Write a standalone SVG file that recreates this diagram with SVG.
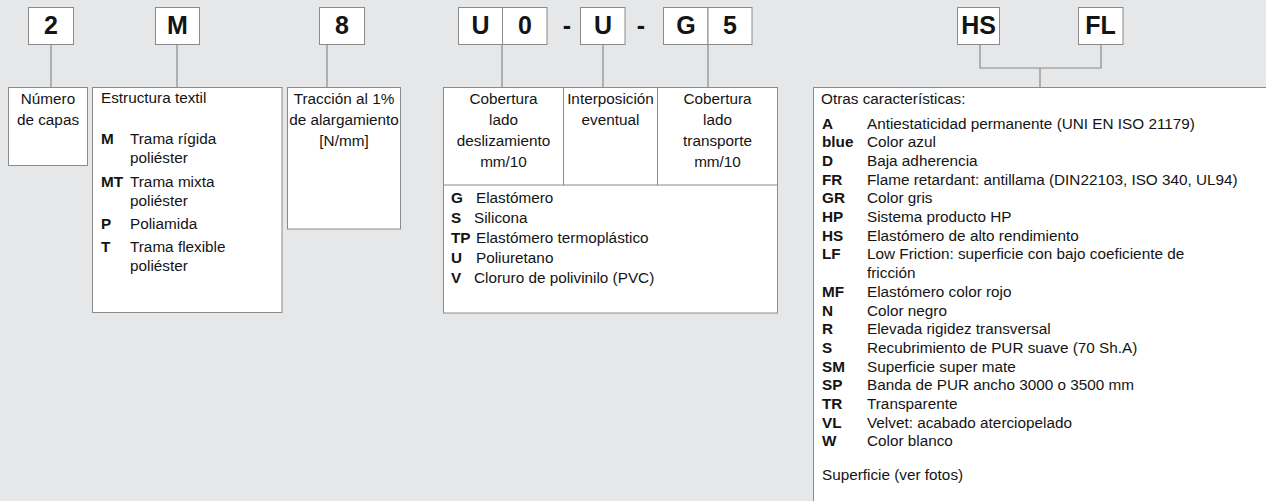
<svg xmlns="http://www.w3.org/2000/svg" width="1266" height="501" viewBox="0 0 1266 501">
<style>
.bg{fill:#e6e7e9}
.box{fill:#ffffff;stroke:#8a8a8a;stroke-width:1}
.ln{fill:none;stroke:#8a8a8a;stroke-width:1.2}
text{font-family:"Liberation Sans",Arial,sans-serif;fill:#141414}
.code{font-size:25px;font-weight:bold;text-anchor:middle}
.t{font-size:15.3px}
.c{text-anchor:middle}
.b{font-weight:bold}
</style>
<rect class="bg" x="0" y="0" width="1266" height="501"/>
<g id="connectors">
<path class="ln" d="M51 44V87"/>
<path class="ln" d="M177 44V87"/>
<path class="ln" d="M327 44V87"/>
<path class="ln" d="M502 44V87"/>
<path class="ln" d="M603 44V87"/>
<path class="ln" d="M708 44V87"/>
<path class="ln" d="M980 44V68H1101V44M1040 68V87"/>
</g>
<g id="code-2"><rect class="box" x="28.5" y="7.5" width="45" height="37"/><text class="code" x="51" y="34">2</text></g>
<g id="code-M"><rect class="box" x="155.5" y="7.5" width="44" height="37"/><text class="code" x="177.5" y="34">M</text></g>
<g id="code-8"><rect class="box" x="319.5" y="7.5" width="45" height="37"/><text class="code" x="342" y="34">8</text></g>
<g id="code-U0"><rect class="box" x="458.5" y="7.5" width="44" height="37"/><rect class="box" x="502.5" y="7.5" width="44.5" height="37"/><text class="code" x="480.5" y="34">U</text><text class="code" x="525" y="34">0</text></g>
<text class="code" x="567" y="34">-</text>
<g id="code-U"><rect class="box" x="580.5" y="7.5" width="44.5" height="37"/><text class="code" x="603" y="34">U</text></g>
<text class="code" x="641" y="34">-</text>
<g id="code-G5"><rect class="box" x="663.5" y="7.5" width="44.5" height="37"/><rect class="box" x="708" y="7.5" width="44" height="37"/><text class="code" x="686" y="34">G</text><text class="code" x="730" y="34">5</text></g>
<g id="code-HS"><rect class="box" x="957.5" y="7.5" width="42" height="37"/><text class="code" x="978.5" y="34">HS</text></g>
<g id="code-FL"><rect class="box" x="1078.5" y="7.5" width="44.5" height="37"/><text class="code" x="1100.5" y="34">FL</text></g>

<g id="capas"><rect class="box" x="8.5" y="87.5" width="79" height="78"/>
<text class="t c" x="48" y="104">Número</text><text class="t c" x="48" y="125">de capas</text></g>

<g id="estructura"><rect class="box" x="92.5" y="87.5" width="189.5" height="225"/>
<text class="t" x="101" y="103">Estructura textil</text>
<text class="t b" x="101" y="144">M</text><text class="t" x="130" y="144">Trama rígida</text><text class="t" x="130" y="163">poliéster</text>
<text class="t b" x="101" y="187">MT</text><text class="t" x="130" y="187">Trama mixta</text><text class="t" x="130" y="206">poliéster</text>
<text class="t b" x="101" y="229">P</text><text class="t" x="130" y="229">Poliamida</text>
<text class="t b" x="101" y="252">T</text><text class="t" x="130" y="252">Trama flexible</text><text class="t" x="130" y="271">poliéster</text>
</g>

<g id="traccion"><rect class="box" x="287.5" y="87.5" width="113" height="141.5"/>
<text class="t c" x="344" y="104">Tracción al 1%</text><text class="t c" x="344" y="125">de alargamiento</text><text class="t c" x="344" y="146">[N/mm]</text></g>

<g id="cobertura"><rect class="box" x="443.5" y="87.5" width="334" height="225.5"/>
<rect class="box" x="443.5" y="87.5" width="120" height="97.5"/>
<rect class="box" x="563.5" y="87.5" width="94" height="97.5"/>
<rect class="box" x="657.5" y="87.5" width="120" height="97.5"/>
<text class="t c" x="503.5" y="104">Cobertura</text><text class="t c" x="503.5" y="125">lado</text><text class="t c" x="503.5" y="146">deslizamiento</text><text class="t c" x="503.5" y="167">mm/10</text>
<text class="t c" x="610.5" y="104">Interposición</text><text class="t c" x="610.5" y="125">eventual</text>
<text class="t c" x="717.5" y="104">Cobertura</text><text class="t c" x="717.5" y="125">lado</text><text class="t c" x="717.5" y="146">transporte</text><text class="t c" x="717.5" y="167">mm/10</text>
<text class="t b" x="451" y="203">G</text><text class="t" x="476" y="203">Elastómero</text>
<text class="t b" x="451" y="223">S</text><text class="t" x="474" y="223">Silicona</text>
<text class="t b" x="451" y="243">TP</text><text class="t" x="476" y="243">Elastómero termoplástico</text>
<text class="t b" x="451" y="263">U</text><text class="t" x="476" y="263">Poliuretano</text>
<text class="t b" x="451" y="283">V</text><text class="t" x="474" y="283">Cloruro de polivinilo (PVC)</text>
</g>

<g id="otras"><rect class="box" x="813.5" y="87.5" width="470" height="430"/>
<text class="t" x="821" y="104">Otras características:</text>
<text class="t b" x="822" y="128.5">A</text><text class="t" x="867" y="128.5">Antiestaticidad permanente (UNI EN ISO 21179)</text>
<text class="t b" x="822" y="147.2">blue</text><text class="t" x="867" y="147.2">Color azul</text>
<text class="t b" x="822" y="165.9">D</text><text class="t" x="867" y="165.9">Baja adherencia</text>
<text class="t b" x="822" y="184.6">FR</text><text class="t" x="867" y="184.6">Flame retardant: antillama (DIN22103, ISO 340, UL94)</text>
<text class="t b" x="822" y="203.3">GR</text><text class="t" x="867" y="203.3">Color gris</text>
<text class="t b" x="822" y="222">HP</text><text class="t" x="867" y="222">Sistema producto HP</text>
<text class="t b" x="822" y="240.7">HS</text><text class="t" x="867" y="240.7">Elastómero de alto rendimiento</text>
<text class="t b" x="822" y="259.4">LF</text><text class="t" x="867" y="259.4">Low Friction: superficie con bajo coeficiente de</text>
<text class="t" x="867" y="278.1">fricción</text>
<text class="t b" x="822" y="296.8">MF</text><text class="t" x="867" y="296.8">Elastómero color rojo</text>
<text class="t b" x="822" y="315.5">N</text><text class="t" x="867" y="315.5">Color negro</text>
<text class="t b" x="822" y="334.2">R</text><text class="t" x="867" y="334.2">Elevada rigidez transversal</text>
<text class="t b" x="822" y="352.9">S</text><text class="t" x="867" y="352.9">Recubrimiento de PUR suave (70 Sh.A)</text>
<text class="t b" x="822" y="371.6">SM</text><text class="t" x="867" y="371.6">Superficie super mate</text>
<text class="t b" x="822" y="390.3">SP</text><text class="t" x="867" y="390.3">Banda de PUR ancho 3000 o 3500 mm</text>
<text class="t b" x="822" y="409">TR</text><text class="t" x="867" y="409">Transparente</text>
<text class="t b" x="822" y="427.7">VL</text><text class="t" x="867" y="427.7">Velvet: acabado aterciopelado</text>
<text class="t b" x="822" y="446.4">W</text><text class="t" x="867" y="446.4">Color blanco</text>
<text class="t" x="822" y="480">Superficie (ver fotos)</text>
</g>
</svg>
